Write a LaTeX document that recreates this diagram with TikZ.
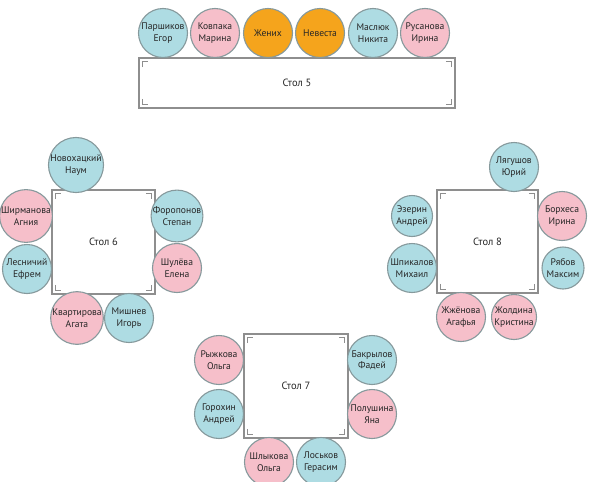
\documentclass[tikz,border=0pt]{standalone}
\usepackage{fontspec}
\setmainfont{PT Sans}

\definecolor{boyblue}{HTML}{AEDCE3}
\definecolor{girlpink}{HTML}{F6BFCA}
\definecolor{couple}{HTML}{F5A41C}
\definecolor{rim}{HTML}{86999C}
\definecolor{tabrim}{HTML}{8E8E8E}

% small corner marks inside a table
\newcommand{\brackets}[1]{%
  \draw [corner] ([xshift=4pt,yshift=-10pt]#1.north west) -- ++(0pt,6pt) -- ++(6pt,0pt) ;
  \draw [corner] ([xshift=-10pt,yshift=-4pt]#1.north east) -- ++(6pt,0pt) -- ++(0pt,-6pt) ;
  \draw [corner] ([xshift=4pt,yshift=10pt]#1.south west) -- ++(0pt,-6pt) -- ++(6pt,0pt) ;
  \draw [corner] ([xshift=-10pt,yshift=4pt]#1.south east) -- ++(6pt,0pt) -- ++(0pt,6pt) ;
}

\begin{document}
\begin{tikzpicture}[x=1pt, y=-1pt,
    guest/.style={circle, draw=rim, line width=1.1pt, minimum size=49pt, inner sep=0pt,
      align=center, text=black!85, font=\fontsize{9.6}{11.5}\selectfont},
    he/.style={guest, fill=boyblue},
    she/.style={guest, fill=girlpink},
    wed/.style={guest, fill=couple},
    stol/.style={draw=tabrim, line width=1.6pt, fill=white, inner sep=0pt,
      text=black!85, font=\fontsize{10.5}{12}\selectfont},
    corner/.style={draw=tabrim, line width=0.8pt}]

  \useasboundingbox (0,0) rectangle (600,482) ;

  % tables
  \node [stol, minimum width=316pt, minimum height=50pt] (t5) at (297,83) {Стол 5} ;
  \node [stol, minimum width=103pt, minimum height=104pt] (t6) at (103.5,242) {Стол 6} ;
  \node [stol, minimum width=101pt, minimum height=103pt] (t8) at (487.5,241.5) {Стол 8} ;
  \node [stol, minimum width=104pt, minimum height=104pt] (t7) at (296,386) {Стол 7} ;
  \brackets{t5} \brackets{t6} \brackets{t7} \brackets{t8}

  % table 5
  \node [he]  (parsh) at (163,33) {Паршиков\\Егор} ;
  \node [she] (kovp)  at (215,33) {Ковпака\\Марина} ;
  \node [wed] (zhen)  at (268,33) {Жених} ;
  \node [wed] (nev)   at (320,33) {Невеста} ;
  \node [he]  (masl)  at (373,33) {Маслюк\\Никита} ;
  \node [she] (rus)   at (425,33) {Русанова\\Ирина} ;

  % table 6
  \node [he]  (novo)  at (76,165)  {Новохацкий\\Наум} ;
  \node [she] (shirm) at (26,216)  {Ширманова\\Агния} ;
  \node [he]  (lesn)  at (27,269)  {Лесничий\\Ефрем} ;
  \node [he]  (forop) at (177,216) {Форопонов\\Степан} ;
  \node [she] (shul)  at (177,268) {Шулёва\\Елена} ;
  \node [she] (kvart) at (77,318)  {Квартирова\\Агата} ;
  \node [he]  (mishn) at (129,318) {Мишнев\\Игорь} ;

  % table 8
  \node [he]  (lyag)  at (514,167) {Лягушов\\Юрий} ;
  \node [he, minimum size=41pt]  (ezer)  at (412,216) {Эзерин\\Андрей} ;
  \node [she] (borh)  at (562,216) {Борхеса\\Ирина} ;
  \node [he]  (shpik) at (412,268) {Шпикалов\\Михаил} ;
  \node [he, minimum size=42pt]  (ryab)  at (563,268) {Рябов\\Максим} ;
  \node [she] (zhzh)  at (461,317) {Жжёнова\\Агафья} ;
  \node [she, minimum size=45pt] (zhold) at (514,317) {Жолдина\\Кристина} ;

  % table 7
  \node [she] (ryzh)  at (219,360) {Рыжкова\\Ольга} ;
  \node [he]  (bakr)  at (372,360) {Бакрылов\\Фадей} ;
  \node [he]  (goroh) at (219,414) {Горохин\\Андрей} ;
  \node [she] (polu)  at (372,414) {Полушина\\Яна} ;
  \node [she] (shlyk) at (269,462) {Шлыкова\\Ольга} ;
  \node [he]  (losk)  at (321,462) {Лоськов\\Герасим} ;
\end{tikzpicture}
\end{document}
